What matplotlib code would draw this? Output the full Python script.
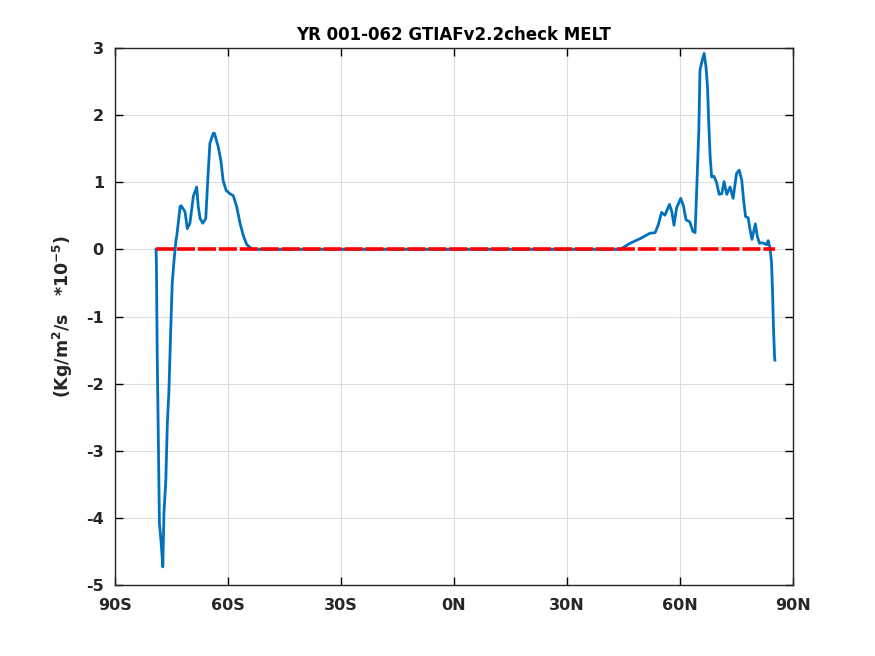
import matplotlib
matplotlib.use("Agg")
import matplotlib.pyplot as plt

# Southern part of the MELT curve (latitude, value *1e-5)
lat_south = [-79.1, -79.0, -78.8, -78.5, -78.2, -77.8, -77.3, -77.0, -76.5, -76.1, -75.7,
             -75.2, -74.8, -74.3, -73.8, -73.6, -72.7, -72.4, -71.4, -70.8, -70.1, -69.2,
             -68.3, -67.9, -67.4, -66.7, -65.9, -65.4, -64.8, -63.9, -63.6, -62.6, -61.9,
             -61.3, -60.5, -59.5, -58.6, -57.7, -56.8, -55.9, -55.0, -53.7, -53.0]
val_south = [0.0, -0.2, -1.5, -2.79, -4.08, -4.33, -4.73, -3.93, -3.44, -2.59, -2.14,
             -1.2, -0.5, -0.15, 0.14, 0.2, 0.64, 0.65, 0.56, 0.31, 0.39, 0.79,
             0.93, 0.64, 0.46, 0.39, 0.46, 1.0, 1.58, 1.73, 1.73, 1.53, 1.33,
             1.03, 0.88, 0.83, 0.80, 0.64, 0.39, 0.2, 0.07, 0.01, 0.0]

# Middle (zero) part
lat_mid = [44.1]
val_mid = [0.0]

# Northern part
lat_north = [46.7, 49.4, 52.0, 53.4, 54.2, 55.1, 56.0, 57.2, 57.8, 58.4, 59.1, 60.2,
             60.9, 61.6, 62.6, 63.4, 64.0, 64.4, 65.0, 65.3, 65.9, 66.4, 66.9, 67.3,
             67.6, 68.0, 68.4, 69.0, 69.7, 70.4, 71.1, 71.7, 72.4, 73.3, 74.1, 75.0,
             75.7, 76.4, 76.8, 77.4, 78.1, 78.6, 79.1, 79.5, 80.0, 80.5, 81.1, 81.7,
             82.3, 83.0, 83.4, 83.9, 84.3, 84.6, 84.8, 85.1, 85.2]
val_north = [0.09, 0.16, 0.24, 0.25, 0.36, 0.55, 0.51, 0.67, 0.57, 0.36, 0.62, 0.76,
             0.65, 0.44, 0.41, 0.27, 0.25, 0.83, 1.78, 2.67, 2.82, 2.92, 2.72, 2.42,
             1.93, 1.38, 1.08, 1.09, 1.0, 0.82, 0.83, 1.01, 0.82, 0.93, 0.76, 1.13,
             1.18, 1.03, 0.78, 0.49, 0.47, 0.29, 0.15, 0.25, 0.38, 0.2, 0.09, 0.1,
             0.09, 0.07, 0.13, 0.02, -0.2, -0.7, -1.15, -1.6, -1.65]

lat = lat_south + lat_mid + lat_north
val = val_south + val_mid + val_north

# Reference zero line extent
zero_lat = [-79.1, 85.2]
zero_val = [0.0, 0.0]

xticks = [-90, -60, -30, 0, 30, 60, 90]
xticklabels = ["90S", "60S", "30S", "0N", "30N", "60N", "90N"]
yticks = [-5, -4, -3, -2, -1, 0, 1, 2, 3]

fig = plt.figure(figsize=(8.75, 6.56), dpi=100)
ax = fig.add_axes([0.1314, 0.1082, 0.7749, 0.8186])

ax.plot(lat, val, color="#0072BD", lw=2.0, zorder=3)
ax.plot(zero_lat, zero_val, color="#FF0000", lw=2.6, linestyle=(0, (5, 0.8)), zorder=4)

ax.set_xlim(-90, 90)
ax.set_ylim(-5, 3)
ax.set_xticks(xticks)
ax.set_xticklabels(xticklabels)
ax.set_yticks(yticks)
ax.set_yticklabels([str(v) for v in yticks])
ax.grid(True, color="#DDDDDD", lw=0.8)
ax.set_axisbelow(True)
ax.tick_params(direction="in", top=True, right=True, length=6, width=1, labelsize=11.5)
ax.tick_params(axis="x", pad=9)
ax.tick_params(axis="y", pad=8)
for lab in ax.get_xticklabels() + ax.get_yticklabels():
    lab.set_fontweight("bold")
    lab.set_color("#262626")
for s in ax.spines.values():
    s.set_color("#262626")
    s.set_linewidth(1.0)

ax.set_title("YR 001-062 GTIAFv2.2check MELT", fontsize=12, fontweight="bold", pad=6)
ax.set_ylabel(r"(Kg/m$^{\mathbf{2}}$/s   *10$^{\mathbf{-5}}$)", fontsize=12.5,
              fontweight="bold", labelpad=8, color="#262626")

fig.savefig("out.png", dpi=100)
